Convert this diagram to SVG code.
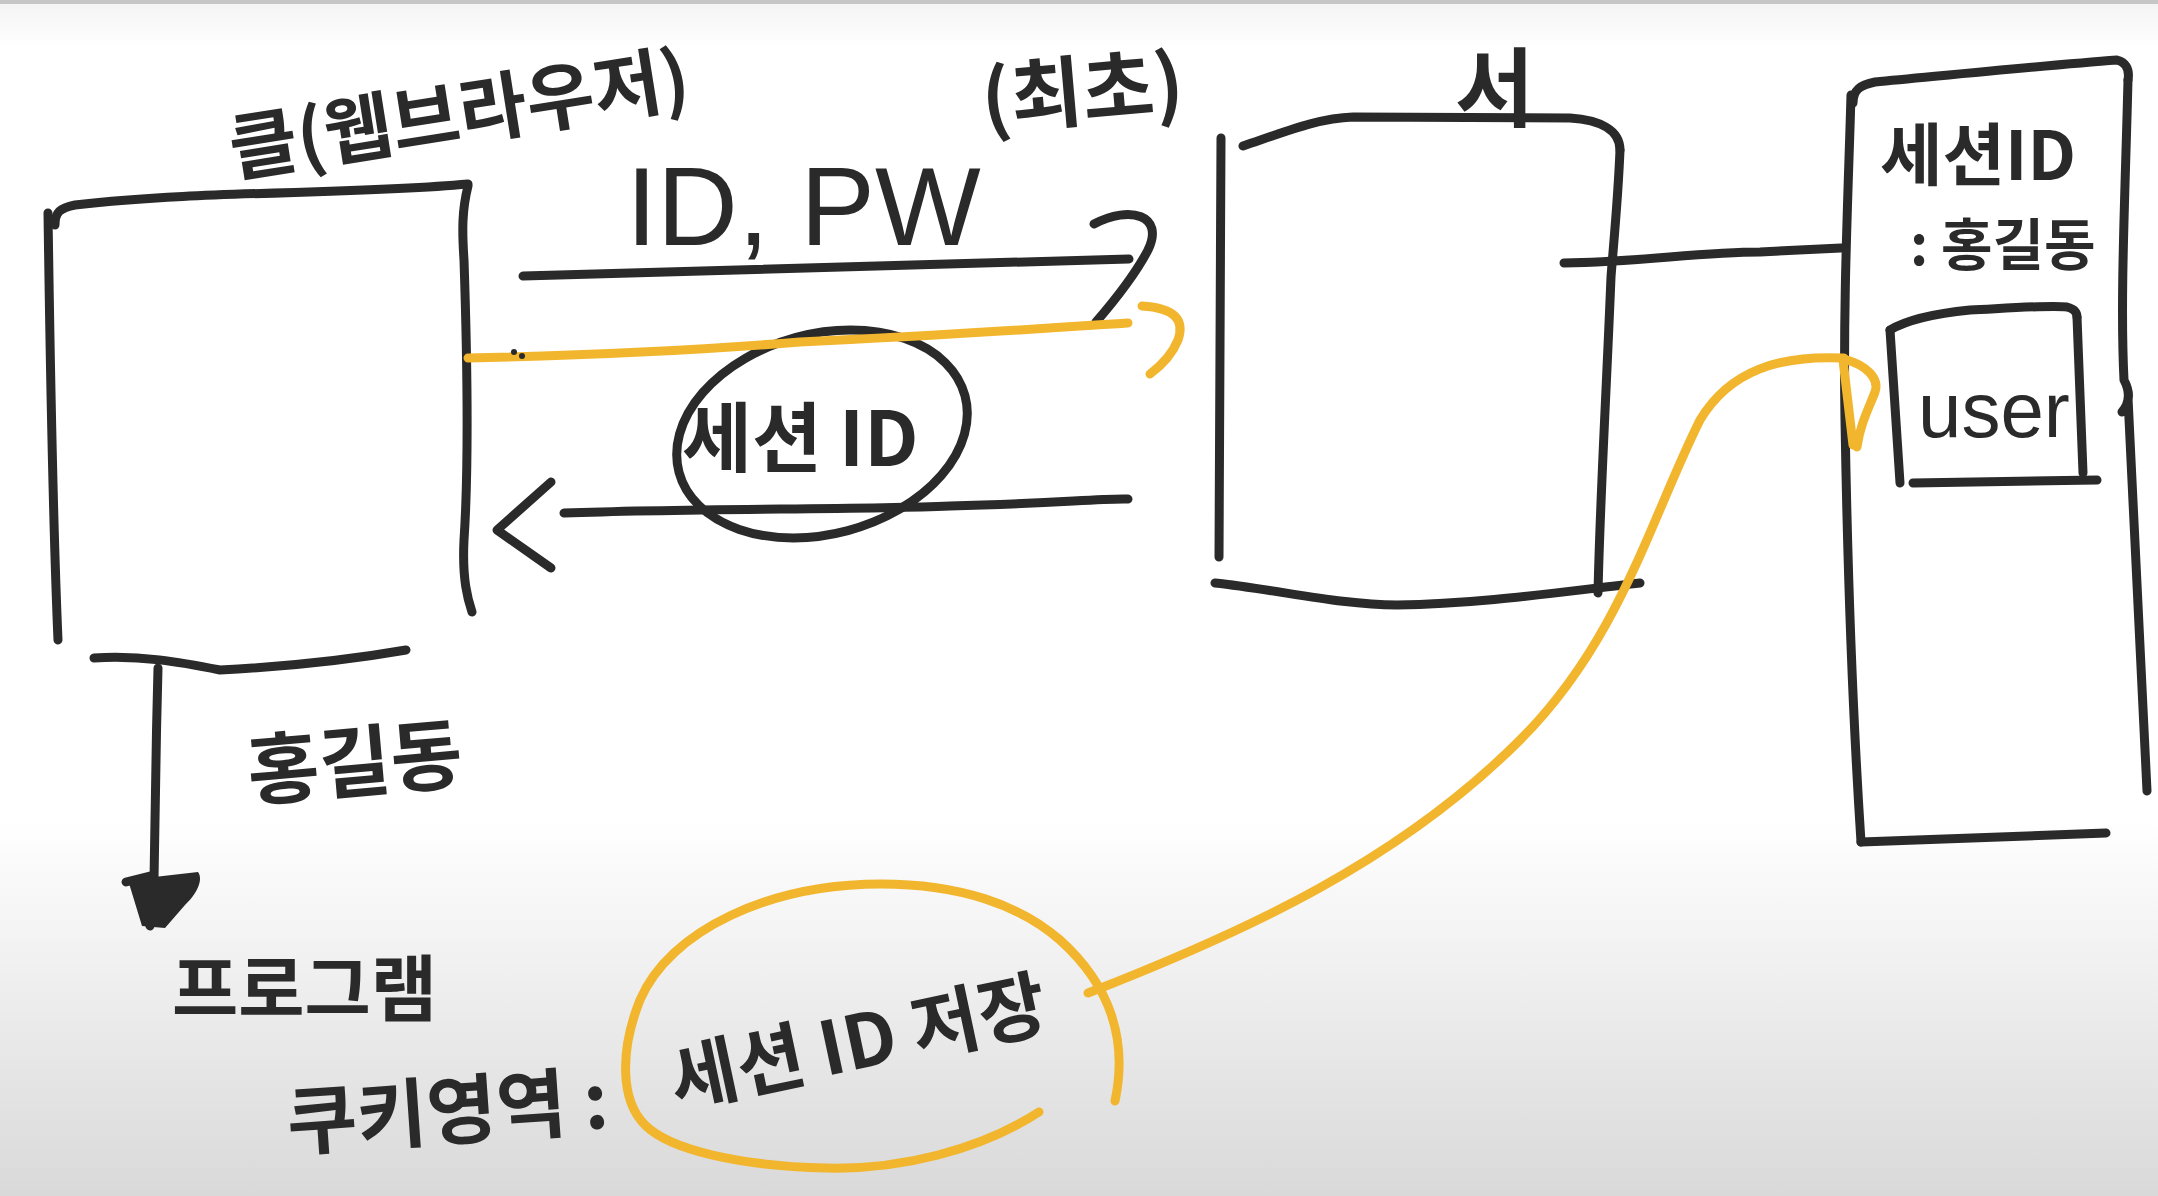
<svg xmlns="http://www.w3.org/2000/svg" width="2158" height="1196" viewBox="0 0 2158 1196">
<defs>
<linearGradient id="bgBottom" x1="0" y1="0" x2="0" y2="1">
<stop offset="0" stop-color="#ffffff"/>
<stop offset="1" stop-color="#d9d9d9"/>
</linearGradient>
<linearGradient id="bgTop" x1="0" y1="0" x2="0" y2="1">
<stop offset="0" stop-color="#f3f3f3"/>
<stop offset="1" stop-color="#ffffff"/>
</linearGradient>
</defs>
<style>
.ink{fill:none;stroke:#2a2a2a;stroke-width:9;stroke-linecap:round;stroke-linejoin:round}
.hl{fill:none;stroke:#f2b62e;stroke-width:9;stroke-linecap:round;stroke-linejoin:round}
.t{font-family:"Noto Sans CJK KR","Noto Sans",sans-serif;fill:#2a2a2a;font-weight:700}
.lat{font-family:"Liberation Sans","Noto Sans",sans-serif;fill:#2a2a2a}
</style>
<rect width="2158" height="1196" fill="#ffffff"/>
<rect x="0" y="0" width="2158" height="48" fill="url(#bgTop)"/>
<line x1="0" y1="2" x2="2158" y2="2" stroke="#c6c6c6" stroke-width="4"/>
<rect x="0" y="820" width="2158" height="376" fill="url(#bgBottom)"/>

<g id="client">
<path class="ink" d="M48,213 C50,350 52,500 58,640"/>
<path class="ink" d="M55,225 C55,212 60,208 75,205 C200,190 350,195 468,184"/>
<path class="ink" d="M468,186 C462,210 462,230 464,260 C468,380 468,480 464,540 C462,580 468,600 472,612"/>
<path class="ink" d="M94,658 C140,655 180,662 220,670 C300,666 360,658 406,650"/>
<text class="t" x="234" y="176" font-size="74" transform="rotate(-9 234 176)">클(웹브라우저)</text>
<text class="t" x="250" y="800" font-size="78" transform="rotate(-5 250 800)">홍길동</text>
</g>

<g id="program">
<text class="t" x="172" y="1015" font-size="72">프로그램</text>
</g>

<g id="cookie-area">
<text class="t" x="289" y="1150" font-size="76" transform="rotate(-4 289 1150)">쿠키영역 :</text>
<text class="t" x="676" y="1108" font-size="74" transform="rotate(-12 676 1108)">세션 ID 저장</text>
<path class="hl" d="M1039,1112 C980,1150 900,1170 826,1168 C740,1166 670,1150 645,1125 C620,1100 620,1050 640,1000 C670,930 770,884 881,884 C960,884 1020,905 1060,940 C1110,985 1128,1040 1115,1101"/>
</g>

<g id="server">
<path class="ink" d="M1221,138 C1219,280 1220,420 1219,557"/>
<path class="ink" d="M1243,146 C1290,130 1320,118 1353,117 L1570,118 C1600,120 1620,130 1620,150"/>
<path class="ink" d="M1620,150 C1618,200 1613,250 1611,277 C1606,400 1600,500 1598,593"/>
<path class="ink" d="M1215,583 C1280,590 1340,605 1397,605 C1480,604 1560,592 1640,583"/>
<text class="t" x="1455" y="120" font-size="86">서</text>
</g>

<g id="session-store">
<path class="ink" d="M1851,95 C1848,200 1843,300 1845,420 C1848,600 1855,750 1861,842"/>
<path class="ink" d="M1853,103 C1853,90 1860,85 1875,82 C1950,75 2050,65 2117,60 C2125,62 2130,68 2128,80"/>
<path class="ink" d="M2128,80 C2125,200 2120,300 2124,380 C2132,395 2128,405 2122,412 M2128,398 C2135,520 2140,650 2147,791"/>
<path class="ink" d="M1861,842 C1950,838 2030,836 2106,833"/>
<text class="t" x="1880" y="180" font-size="68">세션ID</text>
<text class="t" x="1910" y="265" font-size="56">: 홍길동</text>
</g>

<g id="user">
<path class="ink" d="M1890,330 C1893,380 1897,430 1900,483"/>
<path class="ink" d="M1890,330 C1910,318 1940,313 1970,310 C2010,308 2050,305 2067,307 C2075,309 2077,313 2077,317"/>
<path class="ink" d="M2077,317 C2079,370 2081,420 2083,473"/>
<path class="ink" d="M1913,483 C1980,482 2040,481 2097,480"/>
<text class="lat" x="1918" y="437" font-size="78">user</text>
</g>

<g id="session-id-label">
<ellipse class="ink" cx="822" cy="434" rx="148" ry="100" transform="rotate(-15 822 434)"/>
<text class="t" x="682" y="466" font-size="76">세션 ID</text>
</g>

<g id="connectors">
<text class="lat" x="626" y="245" font-size="112">ID, PW</text>
<text class="t" x="984" y="128" font-size="78" transform="rotate(-5 984 128)">(최초)</text>
<path class="ink" d="M523,276 C650,272 800,270 1129,259"/>
<path class="ink" d="M1094,224 C1130,205 1165,215 1148,250 C1135,275 1115,300 1096,322"/>
<path class="hl" d="M468,358 C600,355 700,350 800,342 C950,335 1050,328 1128,323"/>
<path class="hl" d="M1142,306 C1175,308 1185,320 1178,340 C1172,355 1162,365 1150,374"/>
<circle cx="514" cy="352" r="3" fill="#2a2a2a"/>
<circle cx="522" cy="356" r="3" fill="#2a2a2a"/>
<path class="ink" d="M564,513 C700,508 850,510 950,506 C1050,504 1100,498 1128,499"/>
<path class="ink" d="M551,482 L497,530 L551,568"/>
<path class="ink" d="M1564,263 C1640,262 1700,252 1760,252 L1841,248"/>
<path class="ink" d="M158,668 C156,740 155,820 154,880"/>
<path d="M128,880 L198,872 C204,880 196,895 185,905 L165,928 L142,926 Z" fill="#2a2a2a"/>
<path class="ink" d="M126,882 L150,876 M140,900 L150,926"/>
<path class="hl" d="M1088,993 C1250,930 1400,860 1520,740 C1620,640 1650,520 1700,420 C1730,370 1780,355 1844,358"/>
<path class="hl" d="M1843,360 L1853,445 M1847,360 C1865,365 1880,378 1875,392 C1868,410 1860,425 1857,447"/>
</g>
</svg>
